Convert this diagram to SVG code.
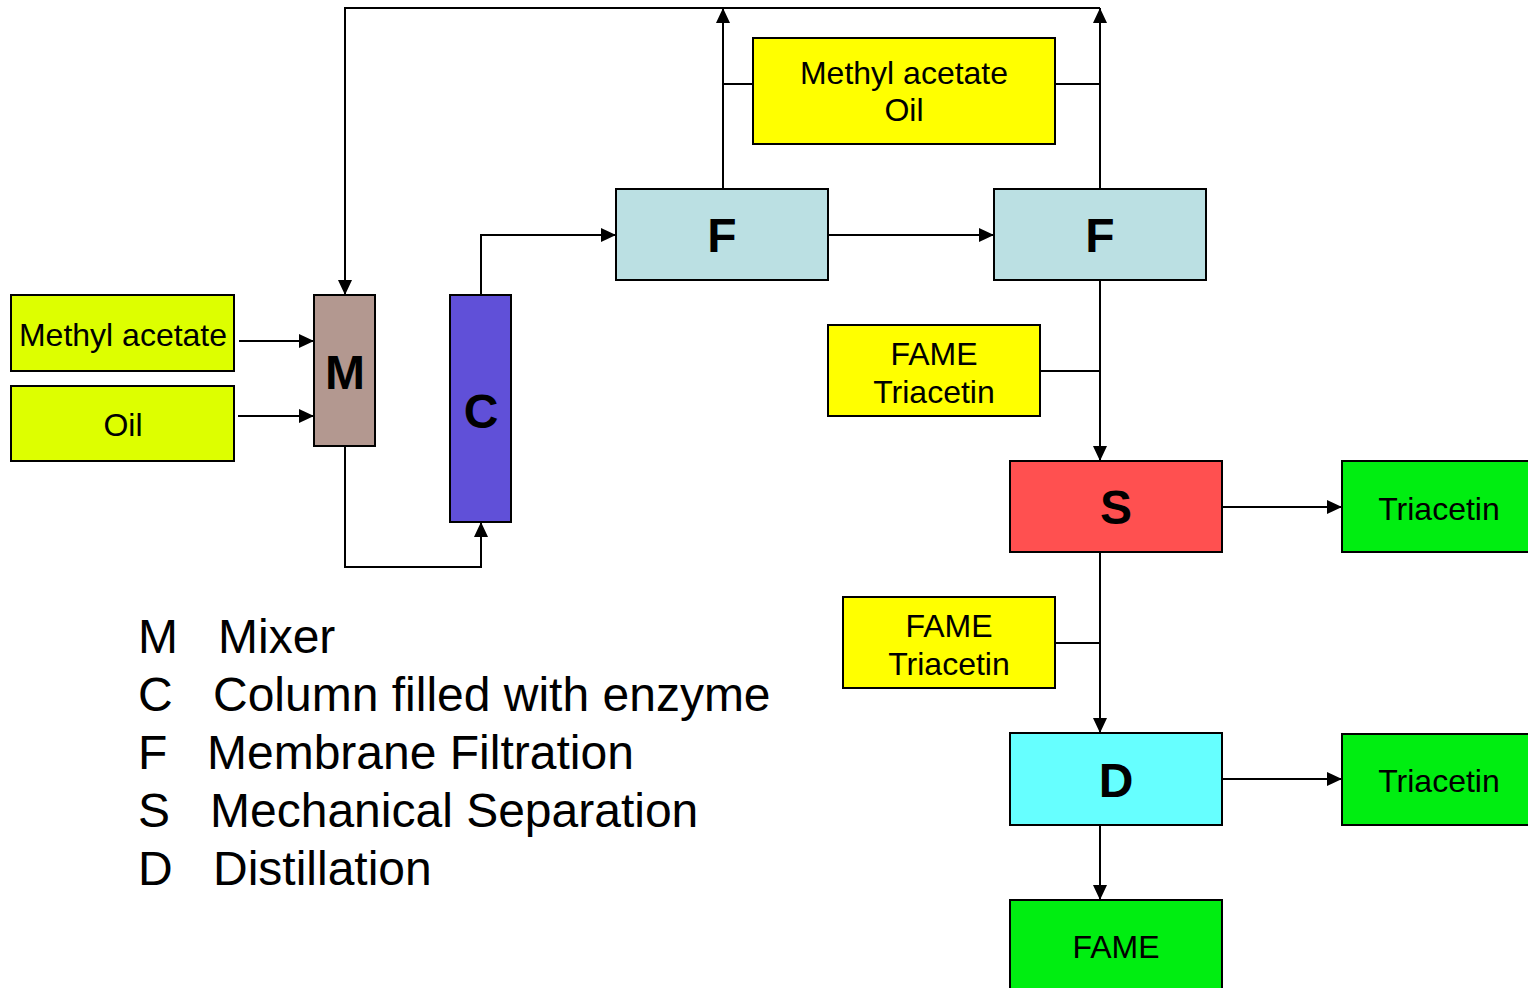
<svg xmlns="http://www.w3.org/2000/svg" width="1528" height="988" viewBox="0 0 1528 988">
<defs>
<marker id="ah" markerWidth="15" markerHeight="14" refX="15" refY="7" orient="auto" markerUnits="userSpaceOnUse"><path d="M0,0 L15,7 L0,14 Z" fill="#000"/></marker>
<style>
.box{stroke:#000;stroke-width:2}
.t{font-family:"Liberation Sans",Arial,sans-serif;font-size:32px;text-anchor:middle;fill:#000}
.b{font-family:"Liberation Sans",Arial,sans-serif;font-size:48px;font-weight:bold;text-anchor:middle;fill:#000}
.lg{font-family:"Liberation Sans",Arial,sans-serif;font-size:48px;fill:#000}
.c{fill:none;stroke:#000;stroke-width:2}
</style>
</defs>
<rect width="1528" height="988" fill="#fff"/>
<g id="connectors">
<path class="c" d="M239,341 H314" marker-end="url(#ah)"/>
<path class="c" d="M238,416 H314" marker-end="url(#ah)"/>
<path class="c" d="M345,446 V567 H481 V522" marker-end="url(#ah)"/>
<path class="c" d="M481,295 V235 H616" marker-end="url(#ah)"/>
<path class="c" d="M829,235 H994" marker-end="url(#ah)"/>
<path class="c" d="M723,189 V8" marker-end="url(#ah)"/>
<path class="c" d="M1100,189 V8" marker-end="url(#ah)"/>
<path class="c" d="M1100,8 H345 V295" marker-end="url(#ah)"/>
<path class="c" d="M723,84 H753"/>
<path class="c" d="M1055,84 H1100"/>
<path class="c" d="M1100,280 V461" marker-end="url(#ah)"/>
<path class="c" d="M1040,371 H1100"/>
<path class="c" d="M1222,507 H1342" marker-end="url(#ah)"/>
<path class="c" d="M1100,552 V733" marker-end="url(#ah)"/>
<path class="c" d="M1055,643 H1100"/>
<path class="c" d="M1222,779 H1342" marker-end="url(#ah)"/>
<path class="c" d="M1100,825 V900" marker-end="url(#ah)"/>
</g>
<g id="in-methyl"><rect class="box" x="11" y="295" width="223" height="76" fill="#DDFF00"/><text class="t" x="123" y="346">Methyl acetate</text></g>
<g id="in-oil"><rect class="box" x="11" y="386" width="223" height="75" fill="#DDFF00"/><text class="t" x="123" y="436">Oil</text></g>
<g id="M"><rect class="box" x="314" y="295" width="61" height="151" fill="#B39890"/><text class="b" x="345" y="389">M</text></g>
<g id="C"><rect class="box" x="450" y="295" width="61" height="227" fill="#6050D8"/><text class="b" x="481" y="428">C</text></g>
<g id="F1"><rect class="box" x="616" y="189" width="212" height="91" fill="#BBE0E3"/><text class="b" x="722" y="252">F</text></g>
<g id="F2"><rect class="box" x="994" y="189" width="212" height="91" fill="#BBE0E3"/><text class="b" x="1100" y="252">F</text></g>
<g id="recycle"><rect class="box" x="753" y="38" width="302" height="106" fill="#FFFF00"/><text class="t" x="904" y="84">Methyl acetate</text><text class="t" x="904" y="121">Oil</text></g>
<g id="ft1"><rect class="box" x="828" y="325" width="212" height="91" fill="#FFFF00"/><text class="t" x="934" y="365">FAME</text><text class="t" x="934" y="403">Triacetin</text></g>
<g id="S"><rect class="box" x="1010" y="461" width="212" height="91" fill="#FF5050"/><text class="b" x="1116" y="524">S</text></g>
<g id="out-tri1"><rect class="box" x="1342" y="461" width="194" height="91" fill="#00EE11"/><text class="t" x="1439" y="520">Triacetin</text></g>
<g id="ft2"><rect class="box" x="843" y="597" width="212" height="91" fill="#FFFF00"/><text class="t" x="949" y="637">FAME</text><text class="t" x="949" y="675">Triacetin</text></g>
<g id="D"><rect class="box" x="1010" y="733" width="212" height="92" fill="#66FFFF"/><text class="b" x="1116" y="797">D</text></g>
<g id="out-tri2"><rect class="box" x="1342" y="734" width="194" height="91" fill="#00EE11"/><text class="t" x="1439" y="792">Triacetin</text></g>
<g id="out-fame"><rect class="box" x="1010" y="900" width="212" height="100" fill="#00EE11"/><text class="t" x="1116" y="958">FAME</text></g>
<g id="legend">
<text class="lg" y="653"><tspan x="138">M</tspan><tspan x="218">Mixer</tspan></text>
<text class="lg" y="711"><tspan x="138">C</tspan><tspan x="213">Column filled with enzyme</tspan></text>
<text class="lg" y="769"><tspan x="138">F</tspan><tspan x="207">Membrane Filtration</tspan></text>
<text class="lg" y="827"><tspan x="138">S</tspan><tspan x="210">Mechanical Separation</tspan></text>
<text class="lg" y="885"><tspan x="138">D</tspan><tspan x="213">Distillation</tspan></text>
</g>
</svg>
